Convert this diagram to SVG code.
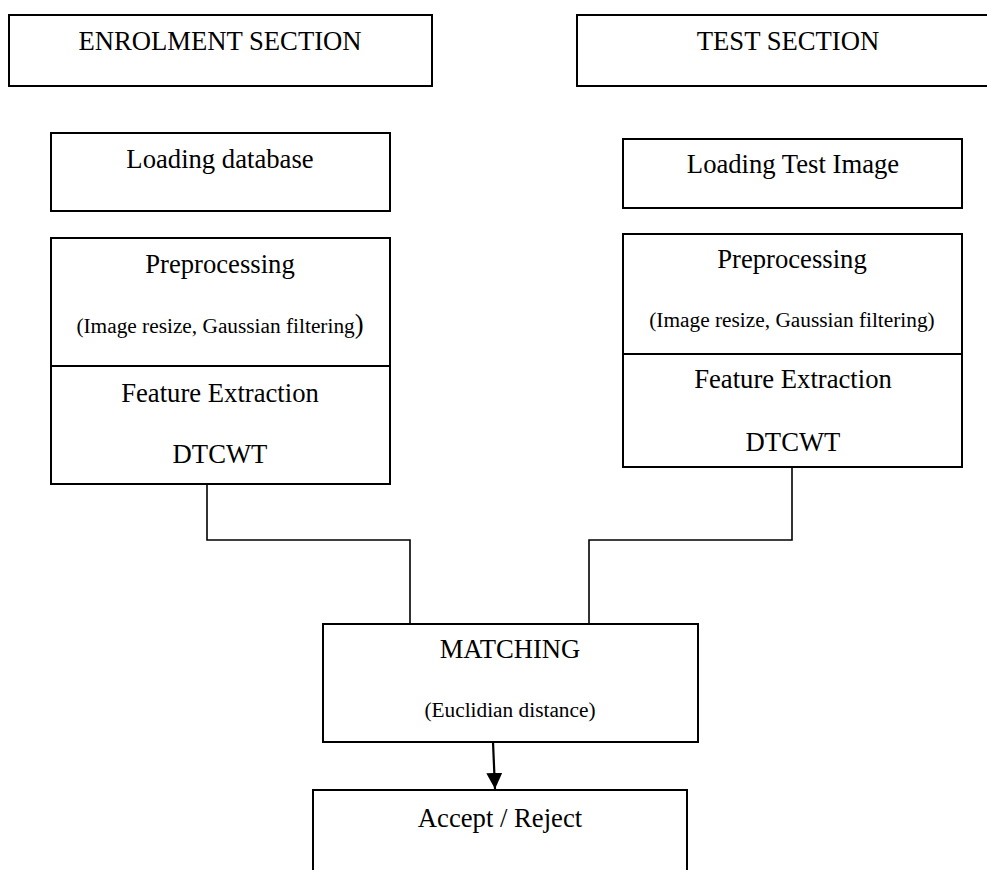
<svg xmlns="http://www.w3.org/2000/svg" width="987" height="870" viewBox="0 0 987 870">
<defs>
<style>
.box{fill:#fff;stroke:#000;stroke-width:2}
.t{font-family:"Liberation Serif","Times New Roman",serif;font-size:26.67px;fill:#000;text-anchor:middle}
.s{font-size:21.33px}
.c{fill:none;stroke:#000;stroke-width:1.6}
</style>
<marker id="arr" markerWidth="16" markerHeight="16" refX="16" refY="8" orient="auto" markerUnits="userSpaceOnUse">
<path d="M0,0 L16,8 L0,16 Z" fill="#000"/>
</marker>
</defs>
<rect width="987" height="870" fill="#fff"/>
<g id="connectors">
<path class="c" d="M207,484 V540 H410 V624"/>
<path class="c" d="M792,467 V540 H589 V624"/>
<line x1="493" y1="742" x2="495" y2="789" stroke="#000" stroke-width="2.2" marker-end="url(#arr)"/>
</g>
<g id="enrolment">
<rect class="box" x="9" y="15" width="423" height="71"/>
<text class="t" x="220" y="50">ENROLMENT SECTION</text>
</g>
<g id="test">
<rect class="box" x="577" y="15" width="420" height="71"/>
<text class="t" x="788" y="50">TEST SECTION</text>
</g>
<g id="loading-db">
<rect class="box" x="51" y="133" width="339" height="78"/>
<text class="t" x="220" y="168">Loading database</text>
</g>
<g id="enrol-proc">
<rect class="box" x="51" y="238" width="339" height="246"/>
<line x1="51" y1="366" x2="390" y2="366" stroke="#000" stroke-width="2"/>
<text class="t" x="220" y="273">Preprocessing</text>
<text class="t s" x="220" y="333">(Image resize, Gaussian filtering<tspan style="font-size:26.67px">)</tspan></text>
<text class="t" x="220" y="402">Feature Extraction</text>
<text class="t" x="220" y="463">DTCWT</text>
</g>
<g id="loading-test">
<rect class="box" x="623" y="139" width="339" height="69"/>
<text class="t" x="793" y="173">Loading Test Image</text>
</g>
<g id="test-proc">
<rect class="box" x="623" y="234" width="339" height="233"/>
<line x1="623" y1="354" x2="962" y2="354" stroke="#000" stroke-width="2"/>
<text class="t" x="792" y="268">Preprocessing</text>
<text class="t s" x="792" y="327">(Image resize, Gaussian filtering)</text>
<text class="t" x="793" y="388">Feature Extraction</text>
<text class="t" x="793" y="451">DTCWT</text>
</g>
<g id="matching">
<rect class="box" x="323" y="624" width="375" height="118"/>
<text class="t" x="510" y="658">MATCHING</text>
<text class="t s" x="510" y="717">(Euclidian distance)</text>
</g>
<g id="accept">
<rect class="box" x="313" y="790" width="374" height="100"/>
<text class="t" x="500" y="827">Accept / Reject</text>
</g>
</svg>
